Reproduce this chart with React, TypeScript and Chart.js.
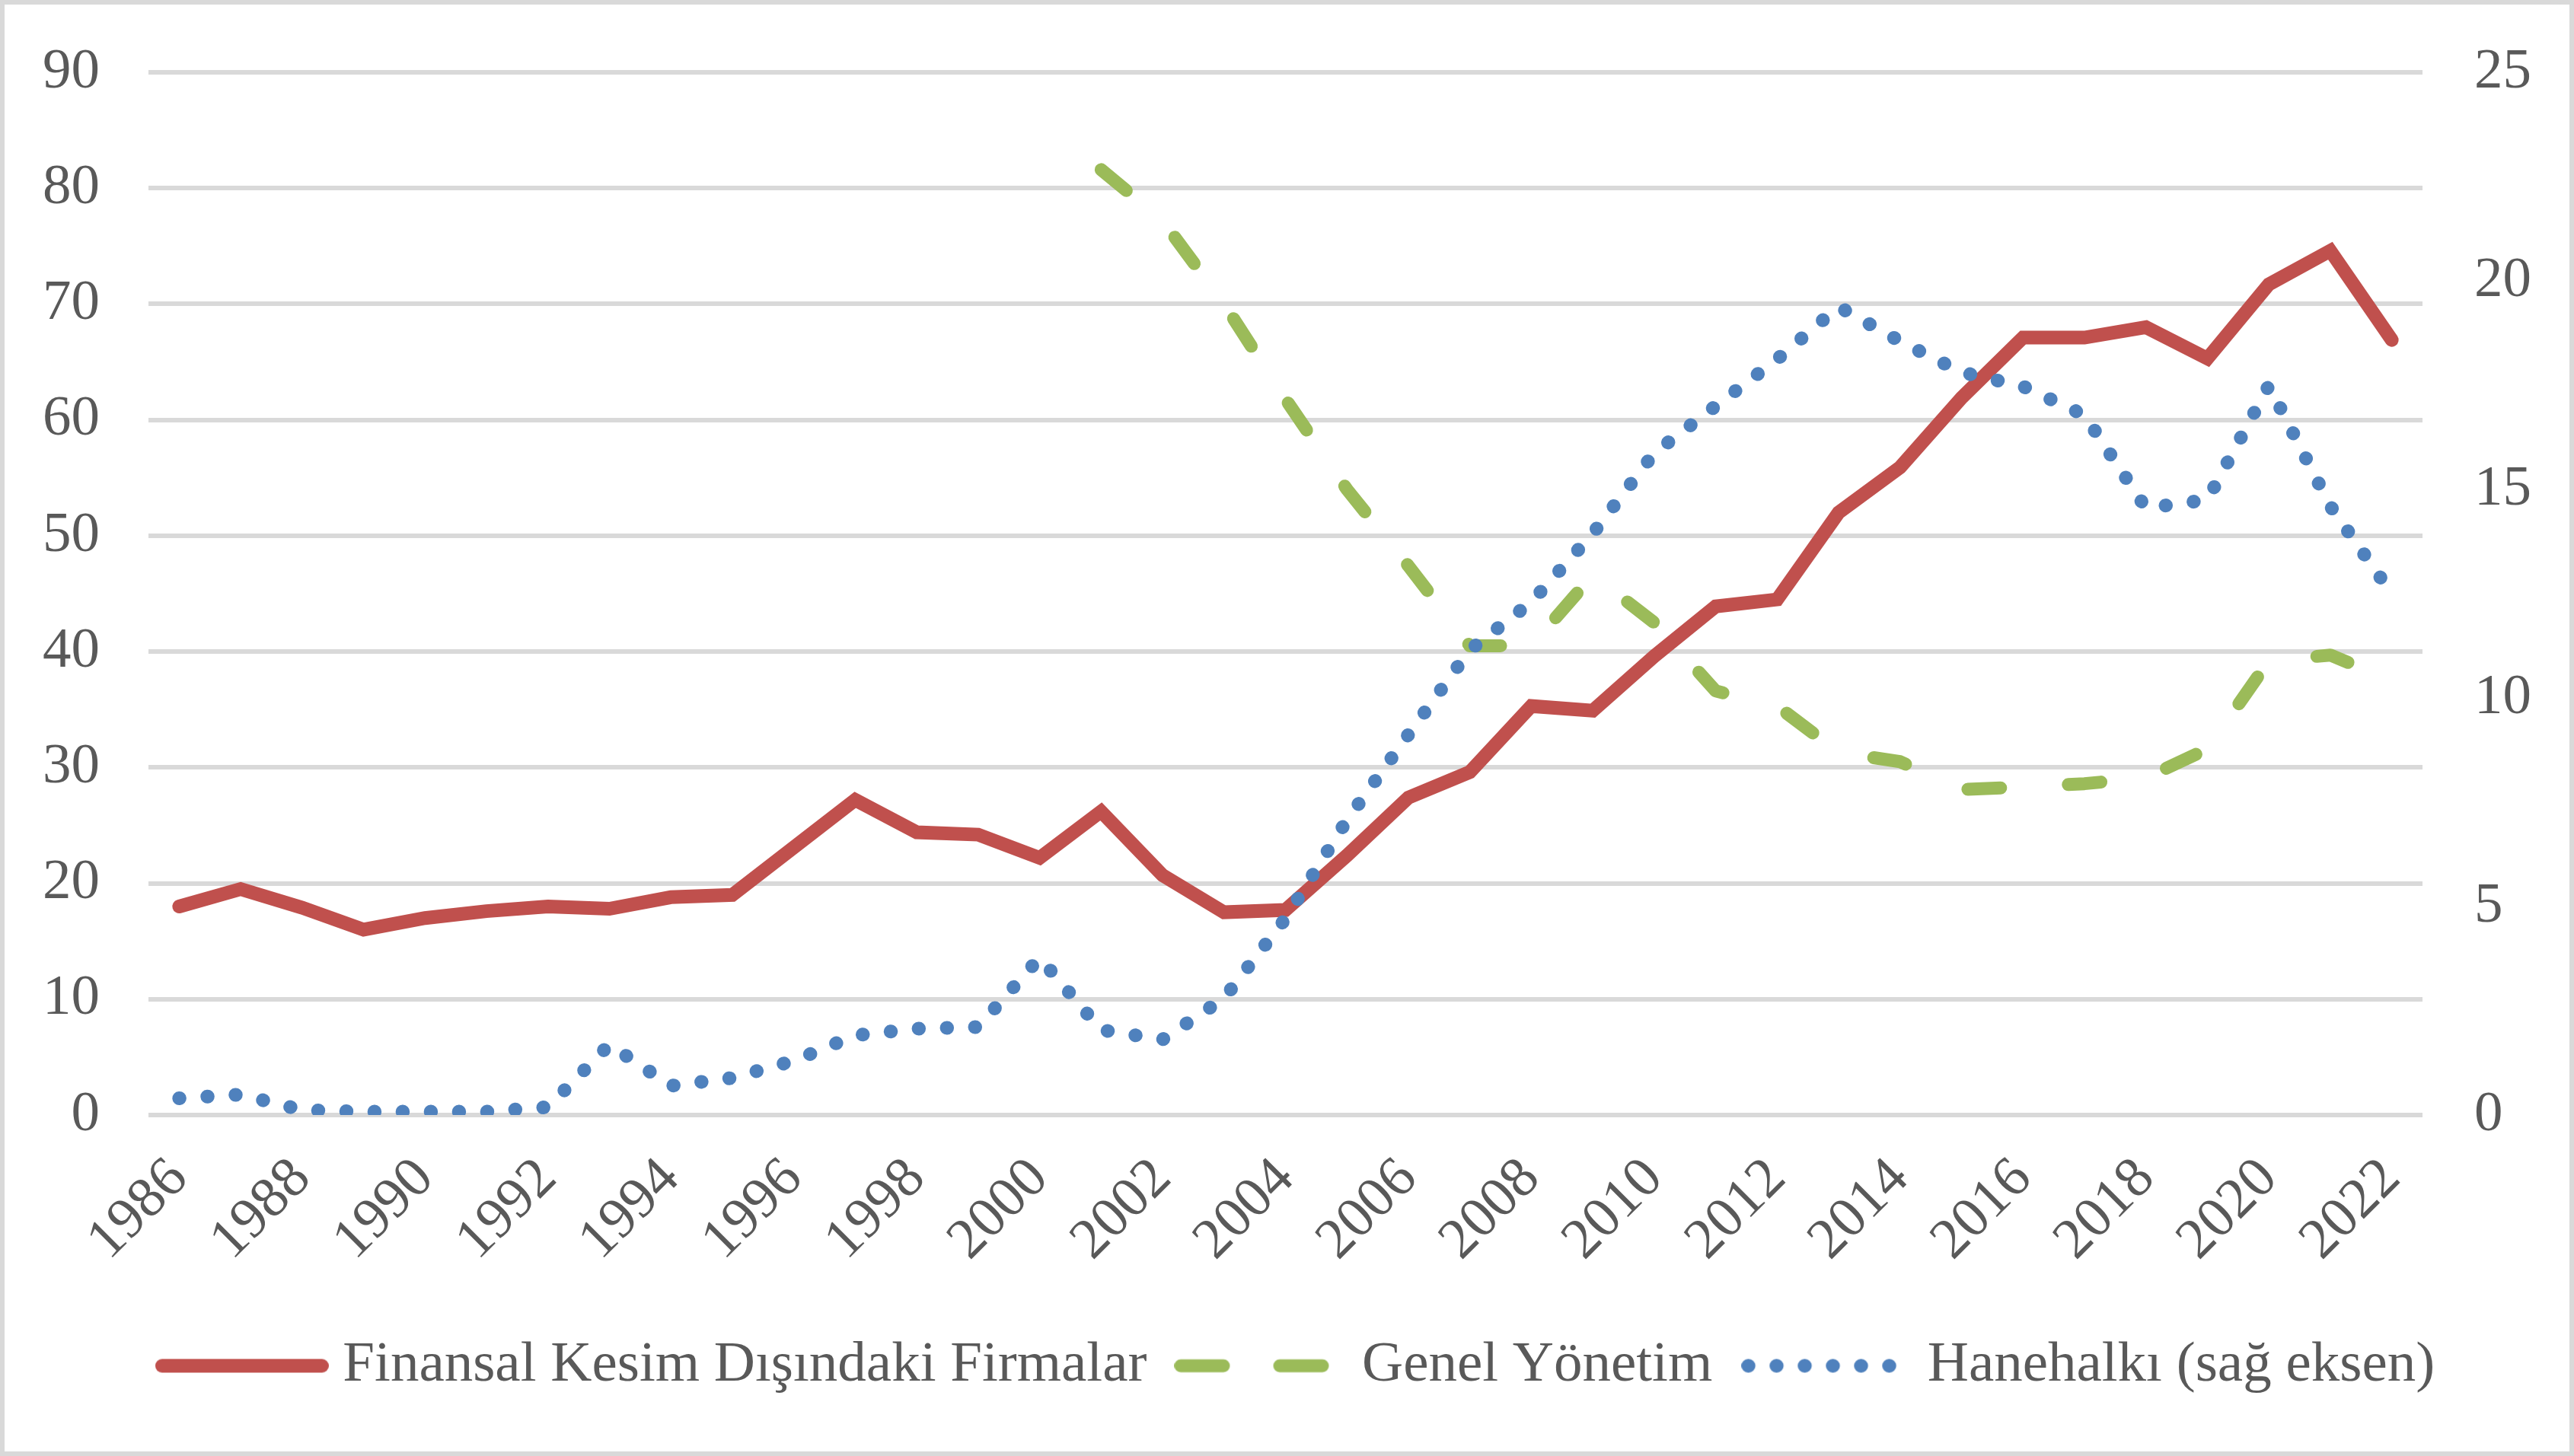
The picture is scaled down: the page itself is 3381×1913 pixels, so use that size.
import React, { useEffect, useRef } from 'react';
import { Chart, registerables } from 'chart.js';

Chart.register(...registerables);

const years = [
  1986, 1987, 1988, 1989, 1990, 1991, 1992, 1993, 1994, 1995, 1996, 1997, 1998,
  1999, 2000, 2001, 2002, 2003, 2004, 2005, 2006, 2007, 2008, 2009, 2010, 2011,
  2012, 2013, 2014, 2015, 2016, 2017, 2018, 2019, 2020, 2021, 2022,
];

// Sol eksen
const finansalDisiFirmalar = [
  18.0, 19.5, 17.9, 16.0, 17.0, 17.6, 18.0, 17.8, 18.8, 19.0, 23.1, 27.2, 24.4,
  24.2, 22.2, 26.2, 20.7, 17.5, 17.7, 22.4, 27.4, 29.6, 35.3, 34.9, 39.6, 43.9,
  44.5, 52.0, 55.9, 61.9, 67.1, 67.1, 68.0, 65.3, 71.7, 74.6, 66.9,
];

// Sol eksen (2001'den itibaren)
const genelYonetim = [
  null, null, null, null, null, null, null, null, null, null, null, null, null,
  null, null, 81.6, 77.2, 70.0, 61.8, 54.0, 47.4, 40.5, 40.5, 46.6, 42.5, 36.6,
  35.3, 31.3, 30.5, 28.1, 28.3, 28.6, 29.1, 31.6, 39.2, 39.7, 37.5,
];

// Sağ eksen
const hanehalki = [
  0.40, 0.49, 0.12, 0.08, 0.08, 0.08, 0.19, 1.69, 0.70, 0.89, 1.30, 1.91, 2.07,
  2.11, 3.77, 2.04, 1.81, 2.80, 4.71, 7.07, 9.12, 11.15, 12.3, 13.94, 15.87,
  17.0, 18.12, 19.38, 18.55, 17.81, 17.47, 16.78, 14.55, 14.75, 17.49, 14.6, 12.5,
];

const seriesLabels = [
  'Finansal Kesim Dışındaki Firmalar',
  'Genel Yönetim',
  'Hanehalkı (sağ eksen)',
];

const FONT = '"Liberation Serif", "Times New Roman", serif';
const TEXT = '#595959';
const GRID = '#d9d9d9';

const W = 3381;
const H = 1913;
const PAD_LEFT = 40;

// Legend sample image; shift moves the drawn sample horizontally inside a centred image
function legendSample(
  width: number,
  color: string,
  lineWidth: number,
  dash: number[],
  shift: number
): HTMLCanvasElement {
  const extra = Math.abs(shift) * 2;
  const c = document.createElement('canvas');
  c.width = width + extra;
  c.height = 24;
  const ctx = c.getContext('2d')!;
  const x0 = shift < 0 ? 0 : extra;
  ctx.strokeStyle = color;
  ctx.lineWidth = lineWidth;
  ctx.lineCap = 'round';
  ctx.setLineDash(dash);
  ctx.beginPath();
  ctx.moveTo(x0 + lineWidth / 2, 12);
  ctx.lineTo(x0 + width - lineWidth / 2, 12);
  ctx.stroke();
  return c;
}

const borderPlugin = {
  id: 'outerBorder',
  beforeDraw(chart: any) {
    const { ctx, width, height } = chart;
    ctx.save();
    ctx.fillStyle = '#ffffff';
    ctx.fillRect(0, 0, width, height);
    ctx.restore();
  },
  afterDraw(chart: any) {
    const { ctx, width, height } = chart;
    ctx.save();
    ctx.strokeStyle = GRID;
    ctx.lineWidth = 6;
    ctx.strokeRect(3, 3, width - 6, height - 6);
    ctx.restore();
  },
};

export default function App() {
  const ref = useRef<HTMLCanvasElement>(null);

  useEffect(() => {
    const canvas = ref.current;
    if (!canvas) return;

    const samples = [
      legendSample(228, '#C0504D', 18, [], 0),
      legendSample(204, '#9BBB59', 17, [56, 74], -12),
      legendSample(204, '#4F81BD', 18, [0.5, 36.5], -10),
    ];

    const chart = new Chart(canvas, {
      type: 'line',
      data: {
        labels: years.map(String),
        datasets: [
          {
            label: seriesLabels[0],
            data: finansalDisiFirmalar,
            borderColor: '#C0504D',
            backgroundColor: '#C0504D',
            borderWidth: 18,
            borderCapStyle: 'round',
            borderJoinStyle: 'miter',
            pointRadius: 0,
            tension: 0,
            yAxisID: 'y',
            order: 3,
          },
          {
            label: seriesLabels[1],
            data: genelYonetim,
            borderColor: '#9BBB59',
            backgroundColor: '#9BBB59',
            borderWidth: 17,
            borderDash: [43, 89],
            borderCapStyle: 'round',
            borderJoinStyle: 'round',
            pointRadius: 0,
            tension: 0,
            spanGaps: false,
            yAxisID: 'y',
            order: 2,
          },
          {
            label: seriesLabels[2],
            data: hanehalki,
            borderColor: '#4F81BD',
            backgroundColor: '#4F81BD',
            borderWidth: 18,
            borderDash: [0.5, 36.5],
            borderCapStyle: 'round',
            borderJoinStyle: 'round',
            pointRadius: 0,
            tension: 0,
            yAxisID: 'y1',
            order: 1,
          },
        ] as any,
      },
      options: {
        animation: false,
        responsive: true,
        maintainAspectRatio: false,
        devicePixelRatio: 1,
        layout: { padding: { top: 95, left: PAD_LEFT, right: 0, bottom: 71 } },
        plugins: {
          tooltip: { enabled: false },
          legend: {
            position: 'bottom',
            labels: {
              usePointStyle: true,
              pointStyleWidth: 190,
              padding: 55,
              color: TEXT,
              font: { family: FONT, size: 75 },
              generateLabels: (c: any) =>
                c.data.datasets.map((ds: any, i: number) => ({
                  text: ds.label,
                  fillStyle: ds.borderColor,
                  strokeStyle: ds.borderColor,
                  lineWidth: ds.borderWidth,
                  pointStyle: samples[i],
                  fontColor: TEXT,
                  hidden: false,
                  datasetIndex: i,
                })),
            },
          },
        },
        scales: {
          x: {
            type: 'category',
            offset: true,
            grid: { display: false, drawTicks: false },
            border: { display: false },
            afterFit: (s: any) => {
              s.height = 237;
            },
            ticks: {
              autoSkip: false,
              maxRotation: 45,
              minRotation: 45,
              padding: 40,
              color: TEXT,
              font: { family: FONT, size: 75 },
              callback: function (this: any, value: any, index: number) {
                return index % 2 === 0 ? this.getLabelForValue(value) : '';
              },
            },
          },
          y: {
            position: 'left',
            min: 0,
            max: 90,
            grid: { color: GRID, lineWidth: 6, drawTicks: false },
            border: { display: false },
            afterFit: (s: any) => {
              s.width = 195 - PAD_LEFT;
              s.paddingTop = 0;
              s.paddingBottom = 0;
            },
            ticks: {
              stepSize: 10,
              padding: 64,
              color: TEXT,
              font: { family: FONT, size: 75 },
            },
          },
          y1: {
            position: 'right',
            min: 0,
            max: 25,
            grid: { display: false, drawTicks: false },
            border: { display: false },
            afterFit: (s: any) => {
              s.width = 199;
              s.paddingTop = 0;
              s.paddingBottom = 0;
            },
            ticks: {
              stepSize: 5,
              padding: 68,
              color: TEXT,
              font: { family: FONT, size: 75 },
            },
          },
        },
      } as any,
      plugins: [borderPlugin],
    });
    return () => chart.destroy();
  }, []);

  return (
    <div
      style={{
        position: 'fixed',
        left: 0,
        top: 0,
        width: W,
        height: H,
        background: '#ffffff',
      }}
    >
      <canvas ref={ref} />
    </div>
  );
}
